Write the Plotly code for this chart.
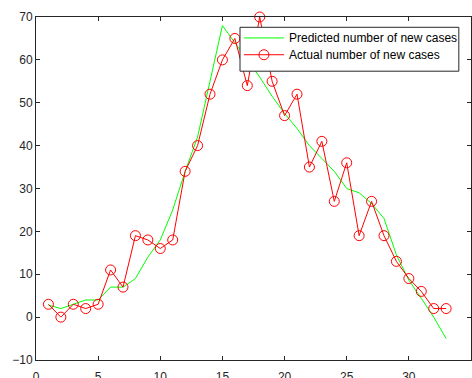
import plotly.graph_objects as go

days = list(range(1, 34))
actual = [3, 0, 3, 2, 3, 11, 7, 19, 18, 16, 18, 34, 40, 52, 60, 65, 54, 70, 55, 47,
          52, 35, 41, 27, 36, 19, 27, 19, 13, 9, 6, 2, 2]
predicted = [2.8, 2, 3, 4, 4, 7, 7, 9, 14, 18, 25, 34, 42, 55, 68, 64, 60, 56, 51.5, 47.5,
             44, 40, 37, 34, 30, 29, 26.5, 23, 14.5, 8.6, 4.4, 0, -5]
names = ["Predicted number of new cases", "Actual number of new cases"]

x_ticks = [0, 5, 10, 15, 20, 25, 30, 35]
y_ticks = [-10, 0, 10, 20, 30, 40, 50, 60, 70]

GREEN = "#00ff00"
RED = "#ff0000"

fig = go.Figure()
fig.add_trace(go.Scatter(x=days, y=predicted, mode="lines", name=names[0],
                         line=dict(color=GREEN, width=1), showlegend=False))
fig.add_trace(go.Scatter(x=days, y=actual, mode="lines+markers", name=names[1],
                         line=dict(color=RED, width=1), cliponaxis=False,
                         marker=dict(symbol="circle-open", size=10, color=RED,
                                     line=dict(width=1, color=RED)),
                         showlegend=False))

axis_common = dict(showgrid=False, zeroline=False, showline=True, linecolor="#262626",
                   linewidth=1, mirror="ticks", ticks="inside", ticklen=4,
                   tickcolor="#262626", tickfont=dict(size=12, color="#262626"),
                   automargin=False)

# custom legend box (paper coordinates)
bx0, bx1, by0, by1 = 0.469, 0.972, 0.842, 0.970
rows = [0.939, 0.890]
lx0, lx1, lxm, tx = 0.478, 0.570, 0.524, 0.578

shapes = [dict(type="rect", xref="paper", yref="paper", x0=bx0, x1=bx1, y0=by0, y1=by1,
               fillcolor="white", line=dict(color="#262626", width=1), layer="above")]
shapes.append(dict(type="line", xref="paper", yref="paper", x0=lx0, x1=lx1,
                   y0=rows[0], y1=rows[0], line=dict(color=GREEN, width=1), layer="above"))
shapes.append(dict(type="line", xref="paper", yref="paper", x0=lx0, x1=lx1,
                   y0=rows[1], y1=rows[1], line=dict(color=RED, width=1), layer="above"))
rw, rh = 5 / 435, 5 / 343
shapes.append(dict(type="circle", xref="paper", yref="paper", x0=lxm - rw, x1=lxm + rw,
                   y0=rows[1] - rh, y1=rows[1] + rh, line=dict(color=RED, width=1),
                   fillcolor="rgba(0,0,0,0)", layer="above"))

annotations = [dict(xref="paper", yref="paper", x=tx, y=yy, text=nm, showarrow=False,
                    xanchor="left", yanchor="middle",
                    font=dict(size=12, color="black"))
               for nm, yy in zip(names, rows)]

fig.update_layout(
    width=472, height=378,
    margin=dict(l=36, r=1, t=17, b=18, autoexpand=False),
    paper_bgcolor="white", plot_bgcolor="white",
    font=dict(family="Liberation Sans, Arial, sans-serif", size=12, color="#262626"),
    xaxis=dict(range=[0, 35], tickvals=x_ticks, ticklabelstandoff=6, **axis_common),
    yaxis=dict(range=[-10, 70], tickvals=y_ticks, **axis_common),
    shapes=shapes, annotations=annotations,
    showlegend=False,
)

fig.write_html("out.html")
